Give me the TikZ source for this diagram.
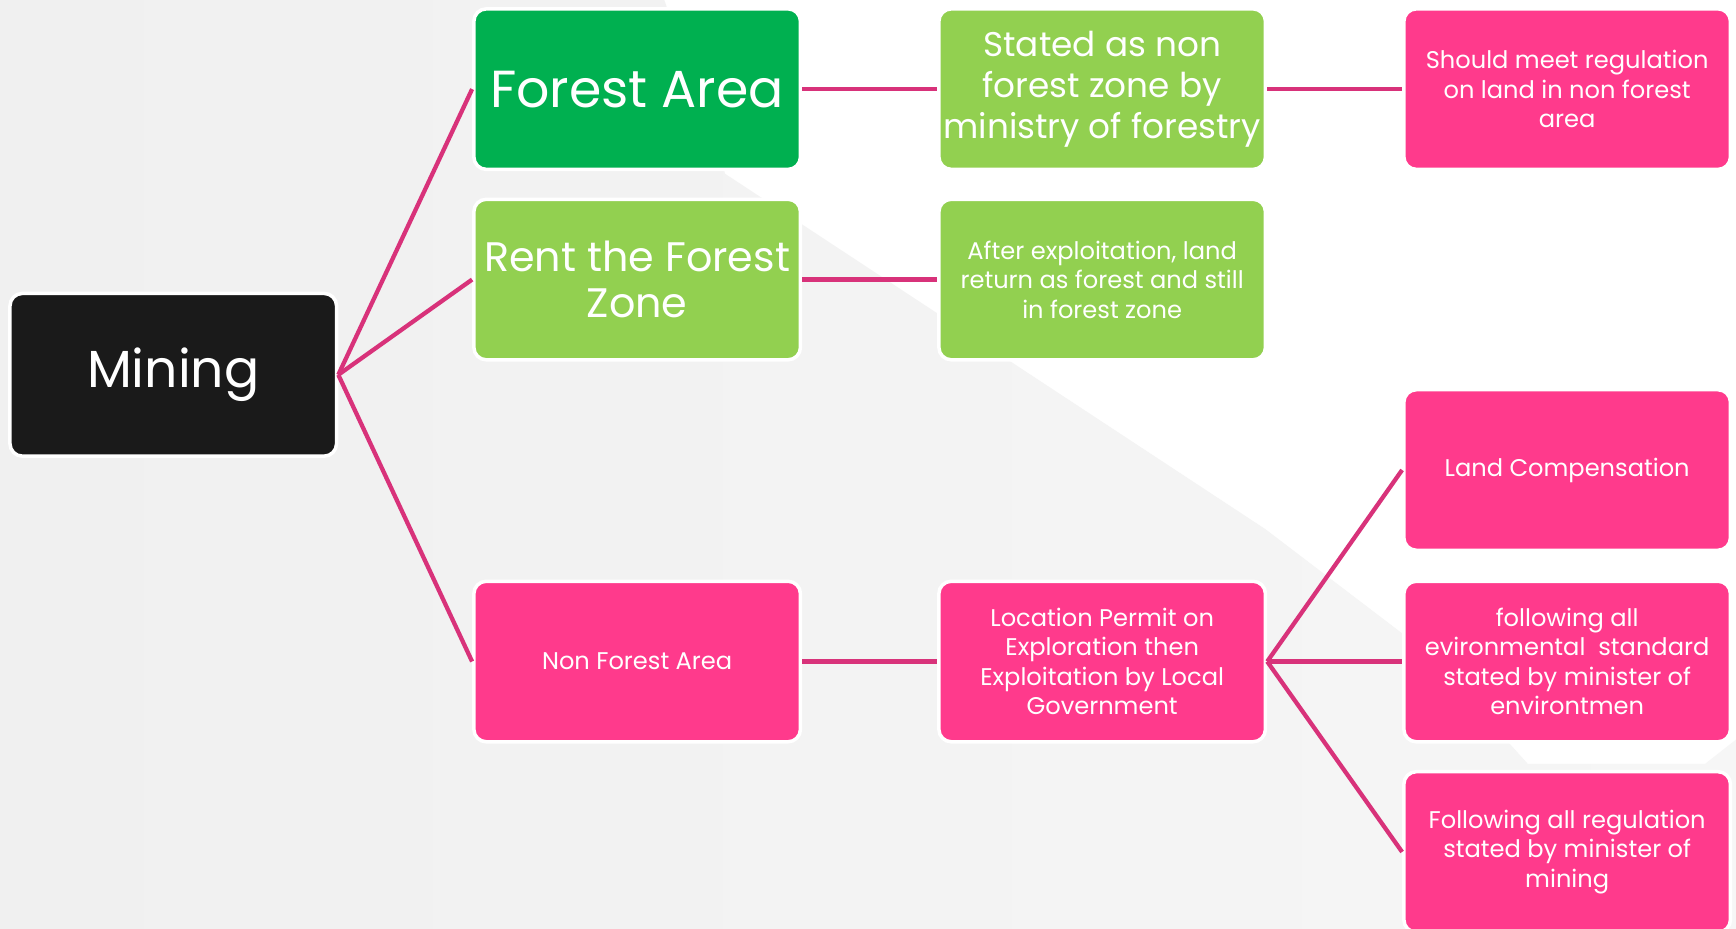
\documentclass[tikz,border=0pt]{standalone}
\usepackage{fontspec}
\setmainfont{Poppins}
\definecolor{forestgreen}{HTML}{00B050}
\definecolor{leafgreen}{HTML}{92D050}
\definecolor{hotpink}{HTML}{FF3A8C}
\definecolor{linkpink}{HTML}{D8327A}
\definecolor{nightblack}{HTML}{1A1A1A}
\definecolor{slidegray}{HTML}{F0F0F0}
\tikzset{
box/.style={draw=white, line width=0.9pt, rounded corners=3.2pt, minimum width=2.95cm, minimum height=1.45cm, align=center, text=white, inner sep=0pt},
bigtext/.style={font=\fontsize{13.4}{15}\selectfont},
midtext/.style={font=\fontsize{10.6}{12}\selectfont},
bodytext/.style={font=\fontsize{8.8}{10.5}\selectfont},
smalltext/.style={font=\fontsize{6.2}{7.6}\selectfont},
link/.style={linkpink, line width=1.1pt},
}
\begin{document}
\begin{tikzpicture}
[x=0.1mm,y=-0.1mm]
\useasboundingbox (0,0) rectangle (1568,839);
\clip (0,0) rectangle (1568,839);
% slide background
\fill [white] (0,0) rectangle (1568,839);
\shade [left color=slidegray, right color=slidegray!60] (0,0) -- (600,0) -- (655,157) -- (1143,478) -- (1290,590) -- (1380,690) -- (1540,690) -- (1568,668) -- (1568,839) -- (0,839) -- cycle;
% first column
\node [box, bigtext, fill=nightblack, minimum height=1.47cm] (mining) at (156.5,338.5) {Mining};
% second column
\node [box, bigtext, fill=forestgreen] (forest) at (575.5,80.5) {Forest Area};
\node [box, midtext, fill=leafgreen] (rent) at (575.5,252.5) {Rent the Forest\\Zone};
\node [box, smalltext, fill=hotpink] (nonforest) at (575.5,597.5) {Non Forest Area};
% third column
\node [box, bodytext, fill=leafgreen] (stated) at (995.5,80.5) {Stated as non\\forest zone by\\ministry of forestry};
\node [box, smalltext, fill=leafgreen] (after) at (995.5,252.5) {After exploitation, land\\return as forest and still\\in forest zone};
\node [box, smalltext, fill=hotpink] (permit) at (995.5,597.5) {Location Permit on\\Exploration then\\Exploitation by Local\\Government};
% fourth column
\node [box, smalltext, fill=hotpink] (meet) at (1415.5,80.5) {Should meet regulation\\on land in non forest\\area};
\node [box, smalltext, fill=hotpink] (compensation) at (1415.5,424.5) {Land Compensation};
\node [box, smalltext, fill=hotpink] (environment) at (1415.5,597.5) {following all\\evironmental\ \ standard\\stated by minister of\\environtmen};
\node [box, smalltext, fill=hotpink] (regulation) at (1415.5,769.5) {Following all regulation\\stated by minister of\\mining};
% connectors
\draw [link] (mining.east) -- (forest.west);
\draw [link] (mining.east) -- (rent.west);
\draw [link] (mining.east) -- (nonforest.west);
\draw [link] (forest) -- (stated);
\draw [link] (stated) -- (meet);
\draw [link] (rent) -- (after);
\draw [link] (nonforest) -- (permit);
\draw [link] (permit.east) -- (compensation.west);
\draw [link] (permit.east) -- (environment.west);
\draw [link] (permit.east) -- (regulation.west);
\end{tikzpicture}
\end{document}
